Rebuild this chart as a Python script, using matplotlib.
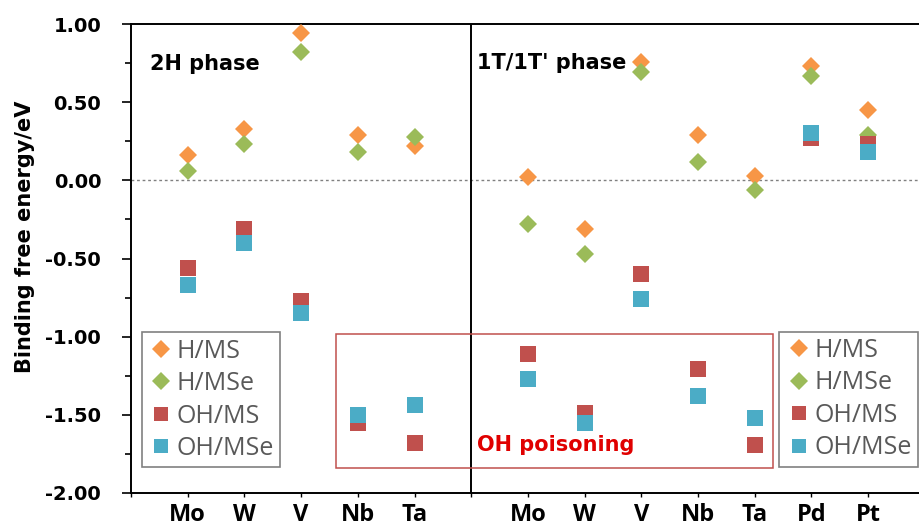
import matplotlib
matplotlib.use("Agg")
import matplotlib.pyplot as plt
from matplotlib.patches import Rectangle
import numpy as np

# ---------------- data ----------------
left_metals = ['Mo', 'W', 'V', 'Nb', 'Ta']
right_metals = ['Mo', 'W', 'V', 'Nb', 'Ta', 'Pd', 'Pt']

h_ms_2h = [0.16, 0.33, 0.94, 0.29, 0.22]
h_mse_2h = [0.06, 0.23, 0.82, 0.18, 0.28]
oh_ms_2h = [-0.56, -0.31, -0.77, -1.55, -1.68]
oh_mse_2h = [-0.67, -0.40, -0.85, -1.50, -1.44]

h_ms_1t = [0.02, -0.31, 0.76, 0.29, 0.03, 0.73, 0.45]
h_mse_1t = [-0.28, -0.47, 0.69, 0.12, -0.06, 0.67, 0.29]
oh_ms_1t = [-1.11, -1.49, -0.60, -1.21, -1.69, 0.27, 0.23]
oh_mse_1t = [-1.27, -1.55, -0.76, -1.38, -1.52, 0.30, 0.18]

series_names = ['H/MS', 'H/MSe', 'OH/MS', 'OH/MSe']
y_ticks = [1.00, 0.50, 0.00, -0.50, -1.00, -1.50, -2.00]

# ---------------- style ----------------
colors = ['#F79646', '#9BBB59', '#C0504D', '#4BACC6']
markers = ['D', 'D', 's', 's']
msizes = [9.5, 9.5, 11.5, 11.5]

fig = plt.figure(figsize=(9.2, 5.25), dpi=100)
W, H = 920.0, 525.0
ax = fig.add_axes([131 / W, 32 / H, (920 - 131) / W, 469 / H])

x_left = np.arange(1, len(left_metals) + 1)
x_div = len(left_metals) + 1
x_right = np.arange(x_div + 1, x_div + 1 + len(right_metals))

left_data = [h_ms_2h, h_mse_2h, oh_ms_2h, oh_mse_2h]
right_data = [h_ms_1t, h_mse_1t, oh_ms_1t, oh_mse_1t]

handles = []
for i in range(4):
    hnd, = ax.plot(x_left, left_data[i], linestyle='none', marker=markers[i],
                   markersize=msizes[i], color=colors[i], markeredgewidth=0,
                   label=series_names[i], zorder=3 + i)
    ax.plot(x_right, right_data[i], linestyle='none', marker=markers[i],
            markersize=msizes[i], color=colors[i], markeredgewidth=0,
            zorder=3 + i)
    handles.append(hnd)

ax.set_xlim(0, (920 - 131) / 56.7)
ax.set_ylim(-2.0, 1.0)

# zero line
ax.axhline(0, color='#808080', linestyle=(0, (2, 2)), linewidth=1, zorder=1)
# divider
ax.axvline(x_div, color='black', linewidth=1.4, zorder=2)

# spines
for s in ['left', 'bottom', 'top']:
    ax.spines[s].set_linewidth(1.4)
ax.spines['right'].set_visible(False)

# ticks
ax.set_yticks(y_ticks)
ax.set_yticklabels([f"{v:.2f}" for v in y_ticks], fontsize=14, fontweight='bold')
ax.set_yticks(np.arange(-1.75, 1.0, 0.5), minor=True)
ax.tick_params(axis='y', which='major', direction='out', length=6.5, width=1.2, pad=15)
ax.tick_params(axis='y', which='minor', direction='out', length=4.5, width=1.2)

xt = list(range(0, x_div + len(right_metals) + 1))
labels = [''] + left_metals + [''] + right_metals
ax.set_xticks(xt)
ax.set_xticklabels(labels, fontsize=17, fontweight='bold', family='Open Sans')
ax.tick_params(axis='x', which='major', direction='out', length=3, width=1, pad=4)

# phase labels
ax.text(0.335, 0.744, '2H phase', fontsize=15, fontweight='bold', va='center', ha='left')
ax.text(6.097, 0.75, "1T/1T' phase", fontsize=15, fontweight='bold', va='center', ha='left')

# OH poisoning box
ax.add_patch(Rectangle((3.62, -1.843), 11.32 - 3.62, 1.843 - 0.985, fill=False,
                       edgecolor='#C0504D', linewidth=1.1, zorder=2))
ax.text(6.097, -1.694, 'OH poisoning', fontsize=15, fontweight='bold', color='#E00000',
        va='center', ha='left', zorder=8)

# y label
fig.text(25 / W, 1 - 237 / H, 'Binding free energy/eV', rotation=90, fontsize=15,
         fontweight='bold', ha='center', va='center')

# legends
leg_kw = dict(prop={'family': 'Open Sans', 'size': 18}, labelcolor='#595959',
              frameon=True, fancybox=False, edgecolor='#808080', framealpha=1,
              borderpad=0.25, handlelength=1.05, handletextpad=0.1, labelspacing=0.3,
              borderaxespad=0, markerscale=0.92, loc='upper left')
leg1 = ax.legend(handles=handles, bbox_to_anchor=(141.7 / W, 1 - 332.3 / H),
                 bbox_transform=fig.transFigure, **leg_kw)
leg1.get_frame().set_linewidth(1.2)
leg1.set_zorder(10)
ax.add_artist(leg1)
leg2 = ax.legend(handles=handles, bbox_to_anchor=(779.3 / W, 1 - 331.7 / H),
                 bbox_transform=fig.transFigure, **leg_kw)
leg2.get_frame().set_linewidth(1.2)
leg2.set_zorder(10)

fig.savefig('out.png', dpi=100)
